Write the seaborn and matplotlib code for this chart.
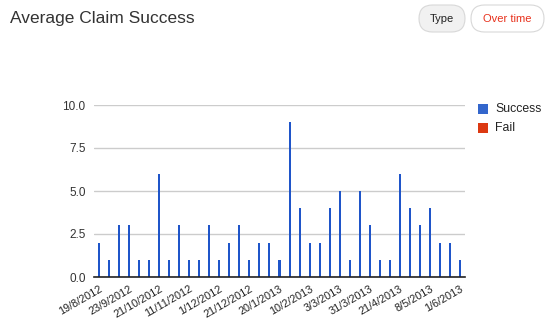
import matplotlib
matplotlib.use("Agg")
import matplotlib.pyplot as plt
from matplotlib.patches import FancyBboxPatch, Rectangle
import seaborn as sns
import pandas as pd

# ---- data ----
success = [2, 1, 3, 3, 1, 1, 6, 1, 3, 1, 1, 3, 1, 2, 3, 1, 2, 2, 1, 9,
           4, 2, 2, 4, 5, 1, 5, 3, 1, 1, 6, 4, 3, 4, 2, 2, 1]
fail = [0] * len(success)
tick_labels = ["19/8/2012", "23/9/2012", "21/10/2012", "11/11/2012", "1/12/2012",
               "21/12/2012", "20/1/2013", "10/2/2013", "3/3/2013", "31/3/2013",
               "21/4/2013", "8/5/2013", "1/6/2013"]
y_ticks = [0.0, 2.5, 5.0, 7.5, 10.0]
series_names = ["Success", "Fail"]

BLUE = "#1f55c9"
BLUE_LEG = "#3366cc"
RED = "#dc3912"

sns.set_theme(style="white")
plt.rcParams["font.family"] = ["Arial", "Liberation Sans", "DejaVu Sans"]

W, H = 556, 326
fig = plt.figure(figsize=(W / 100, H / 100), dpi=100)

# overlay axes in pixel coordinates for decorations
deco = fig.add_axes([0, 0, 1, 1], zorder=0)
deco.set_xlim(0, W)
deco.set_ylim(H, 0)
deco.axis("off")

ax = fig.add_axes([94 / W, 1 - 277 / H, (465 - 94) / W, (277 - 105) / H], zorder=1)
ax.patch.set_alpha(0)

df = pd.DataFrame({"idx": list(range(len(success))), "value": success})
sns.barplot(data=df, x="idx", y="value", color=BLUE, width=0.2, saturation=1,
            linewidth=0, antialiased=False, ax=ax, zorder=3)

ax.set_xlim(-0.5, len(success) - 0.5)
ax.set_ylim(0, 10)
ax.set_yticks(y_ticks)
ax.set_yticklabels([f"{v:.1f}" for v in y_ticks], color="#333333", fontsize=8.5)
ax.yaxis.grid(True, color="#cccccc", linewidth=1, zorder=0)
ax.xaxis.grid(False)
ax.set_xticks(list(range(0, len(success), 3)))
ax.set_xticklabels(tick_labels, rotation=30, ha="right", rotation_mode="anchor",
                   fontsize=7.8, color="#222222")
ax.tick_params(axis="both", length=0, pad=6)
ax.tick_params(axis="x", pad=5)
ax.set_xlabel("")
ax.set_ylabel("")
for s in ["top", "right", "left"]:
    ax.spines[s].set_visible(False)
ax.spines["bottom"].set_color("#222222")
ax.spines["bottom"].set_linewidth(1.2)
ax.spines["bottom"].set_zorder(4)

# title
deco.text(10, 18, "Average Claim Success", fontsize=12.5, color="#333333",
          va="center", ha="left")

# buttons
def pill(x0, x1, y0, y1, face, edge, text, tcolor):
    r = (y1 - y0) / 2
    p = FancyBboxPatch((x0, y0), (x1 - x0), (y1 - y0),
                       boxstyle=f"round,pad=0,rounding_size={r}",
                       facecolor=face, edgecolor=edge, linewidth=0.8)
    deco.add_patch(p)
    deco.text((x0 + x1) / 2, (y0 + y1) / 2, text, fontsize=8,
              color=tcolor, ha="center", va="center")

pill(419, 465, 5, 32, "#f1f1f1", "#d8d8d8", "Type", "#222222")
pill(471, 544, 5, 32, "#ffffff", "#d8d8d8", "Over time", "#e8311c")

# legend
for i, (name, col) in enumerate(zip(series_names, [BLUE_LEG, RED])):
    y = 104 + i * 19
    deco.add_patch(Rectangle((478, y), 10, 10, facecolor=col, edgecolor="none"))
    deco.text(495, y + 5, name, fontsize=8.8, color="#222222",
              ha="left", va="center")

fig.savefig("out.png", dpi=100)
